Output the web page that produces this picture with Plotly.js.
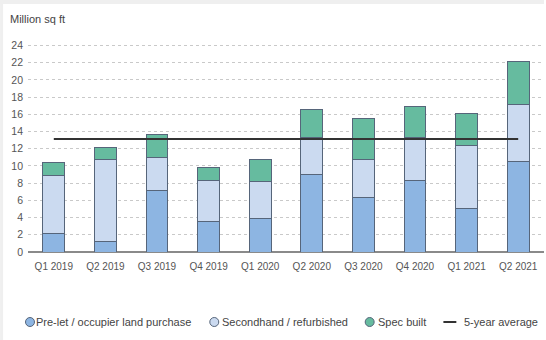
<!DOCTYPE html>
<html>
<head>
<meta charset="utf-8">
<script src="https://cdn.plot.ly/plotly-3.0.1.min.js"></script>
<style>html,body{margin:0;padding:0;background:#fff;}#chart{width:546px;height:340px;}</style>
</head>
<body>
<div id="chart"></div>
<script>
const categories = ['Q1 2019','Q2 2019','Q3 2019','Q4 2019','Q1 2020','Q2 2020','Q3 2020','Q4 2020','Q1 2021','Q2 2021'];
const preLet = [2.2, 1.2, 7.2, 3.6, 3.9, 9.0, 6.3, 8.3, 5.1, 10.5];
const secondhand = [6.7, 9.5, 3.8, 4.7, 4.3, 4.3, 4.4, 5.0, 7.3, 6.7];
const specBuilt = [1.45, 1.4, 2.65, 1.55, 2.5, 3.25, 4.85, 3.6, 3.75, 5.0];
const fiveYearAverage = 13.15;
const seriesNames = ['Pre-let / occupier land purchase', 'Secondhand / refurbished', 'Spec built', '5-year average'];
const yTicks = [0,2,4,6,8,10,12,14,16,18,20,22,24];

const colors = ['#8db5e2', '#cbdaf0', '#66bb9f'];
const outline = '#56657a';
const font = 'Liberation Sans, Arial, sans-serif';

const idx = categories.map((c, i) => i);
const bars = [preLet, secondhand, specBuilt].map((vals, k) => ({
  type: 'bar', x: idx, y: vals, name: seriesNames[k], width: 0.42,
  marker: {color: colors[k], line: {color: outline, width: 1}},
  showlegend: false, hoverinfo: 'skip'
}));
const avgLine = {
  type: 'scatter', mode: 'lines', x: [0, categories.length - 1],
  y: [fiveYearAverage, fiveYearAverage], name: seriesNames[3],
  line: {color: '#333333', width: 2}, showlegend: false, hoverinfo: 'skip'
};

// legend built from shapes + annotations (paper coordinates)
const L = 28, W = 518, B = 88, H = 209;
const px2x = p => (p - L) / W;
const py2y = p => (340 - p - B) / H;
const legPy = 322;
const legendMarkX = [30, 215, 371];
const legendTextX = [35, 222, 378, 465];
const shapes = [
  {type: 'rect', xref: 'paper', yref: 'paper', x0: px2x(0), x1: px2x(546), y0: py2y(4), y1: py2y(0), fillcolor: '#efefef', line: {width: 0}, layer: 'below'},
  {type: 'rect', xref: 'paper', yref: 'paper', x0: px2x(0), x1: px2x(3), y0: py2y(340), y1: py2y(0), fillcolor: '#efefef', line: {width: 0}, layer: 'below'}
];
legendMarkX.forEach((p, k) => {
  const cx = px2x(p), cy = py2y(legPy);
  shapes.push({type: 'circle', xref: 'paper', yref: 'paper',
    x0: cx - 4.5/W, x1: cx + 4.5/W, y0: cy - 4.5/H, y1: cy + 4.5/H,
    fillcolor: colors[k], line: {color: outline, width: 1}});
});
shapes.push({type: 'line', xref: 'paper', yref: 'paper',
  x0: px2x(445), x1: px2x(458), y0: py2y(legPy), y1: py2y(legPy),
  line: {color: '#333333', width: 2}});
const annotations = seriesNames.map((t, k) => ({
  text: t, xref: 'paper', yref: 'paper', x: px2x(legendTextX[k]), y: py2y(legPy),
  xanchor: 'left', yanchor: 'middle', showarrow: false, xshift: -1,
  font: {family: font, size: 11, color: '#444'}
}));

const layout = {
  width: 546, height: 340,
  margin: {l: L, r: 2, t: 43, b: B},
  paper_bgcolor: '#ffffff', plot_bgcolor: '#ffffff',
  barmode: 'stack', showlegend: false,
  font: {family: font, color: '#555'},
  title: {text: 'Million sq ft', x: 10/546, xanchor: 'left', xref: 'container', y: 1 - 19/340, yanchor: 'middle', yref: 'container',
    font: {family: font, size: 11, color: '#444'}},
  xaxis: {
    range: [-0.5, categories.length - 0.5], tickvals: idx, ticktext: categories,
    showgrid: false, zeroline: false, showline: false, ticks: '',
    tickfont: {family: font, size: 10, color: '#555'}, ticklabelstandoff: 7, fixedrange: true
  },
  yaxis: {
    range: [0, 24.3], tickvals: yTicks, showgrid: true, gridcolor: '#c9c9c9', griddash: 'dot', gridwidth: 1,
    zeroline: true, zerolinecolor: '#8a8a8a', zerolinewidth: 2, showline: false, ticks: '',
    tickfont: {family: font, size: 10.5, color: '#555'}, ticklabelstandoff: 4, fixedrange: true
  },
  shapes: shapes,
  annotations: annotations
};

Plotly.newPlot('chart', bars.concat([avgLine]), layout, {displayModeBar: false, staticPlot: true});
</script>
</body>
</html>
